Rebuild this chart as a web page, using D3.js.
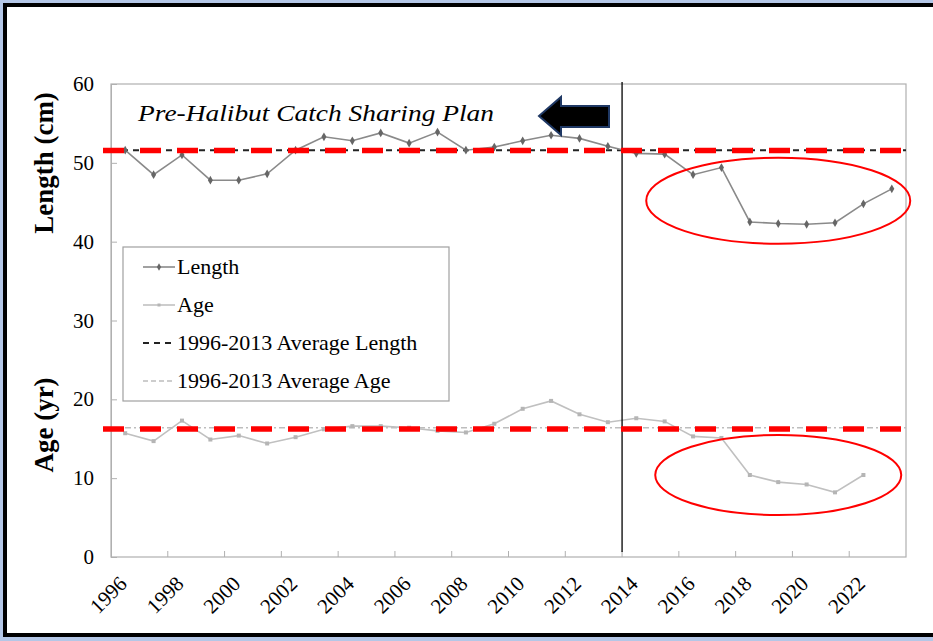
<!DOCTYPE html>
<html>
<head>
<meta charset="utf-8">
<script src="https://cdn.jsdelivr.net/npm/d3@7"></script>
<style>
    body { margin: 0; background: #b4c7e7; overflow: hidden; }
    svg { display: block; }
    text { font-family: "Times New Roman", "Liberation Serif", Tinos, Times, serif; fill: #000; }
</style>
</head>
<body>
<script>
//chart data
var years = ["1996","1997","1998","1999","2000","2001","2002","2003","2004","2005",
             "2006","2007","2008","2009","2010","2011","2012","2013","2014","2015",
             "2016","2017","2018","2019","2020","2021","2022","2023"];
var lengthVals = [51.6, 48.5, 51.0, 47.8, 47.8, 48.6, 51.6, 53.3, 52.8, 53.8,
                  52.5, 53.9, 51.6, 52.0, 52.8, 53.5, 53.1, 52.1, 51.2, 51.1,
                  48.5, 49.4, 42.5, 42.3, 42.2, 42.4, 44.8, 46.7];
var ageVals = [15.7, 14.7, 17.3, 14.9, 15.4, 14.4, 15.2, 16.2, 16.6, 16.6,
               16.4, 16.0, 15.8, 16.9, 18.8, 19.8, 18.1, 17.1, 17.6, 17.2,
               15.3, 15.1, 10.4, 9.5, 9.2, 8.2, 10.4, null];
var avgLength = 51.6, avgAge = 16.4;
var yTicks = [0, 10, 20, 30, 40, 50, 60];
var legendLabels = ["Length", "Age", "1996-2013 Average Length", "1996-2013 Average Age"];

(function(){
    var width = 933, height = 641;
    var svg = d3.select("body").append("svg")
        .attr("width", width)
        .attr("height", height);

    //slide frame
    svg.append("rect")
        .attr("x", 5).attr("y", 5)
        .attr("width", 940).attr("height", 630)
        .attr("fill", "#fff")
        .attr("stroke", "#000")
        .attr("stroke-width", 4);

    var plot = {left: 111, right: 906, top: 84, bottom: 557};

    var x = d3.scaleBand().domain(years).range([plot.left, plot.right]).padding(0);
    var y = d3.scaleLinear().domain([0, 60]).range([plot.bottom, plot.top]);
    var cx = function(yr){ return x(yr) + x.bandwidth() / 2; };

    //plot box
    svg.append("rect")
        .attr("x", plot.left).attr("y", plot.top)
        .attr("width", plot.right - plot.left).attr("height", plot.bottom - plot.top)
        .attr("fill", "none").attr("stroke", "#b0b0b0").attr("stroke-width", 1.2);

    //y axis (ticks point inward)
    var yAxis = svg.append("g")
        .attr("transform", "translate(" + plot.left + ",0)")
        .call(d3.axisRight(y).tickValues(yTicks).tickSize(6).tickFormat(""));
    yAxis.select(".domain").attr("stroke", "#b0b0b0");
    yAxis.selectAll("line").attr("stroke", "#b0b0b0");
    svg.selectAll(".ylab").data(yTicks).enter().append("text")
        .attr("class", "ylab")
        .attr("x", 94)
        .attr("y", function(d){ return y(d) + 7; })
        .attr("text-anchor", "end")
        .style("font-size", "21px")
        .text(function(d){ return d; });

    //x axis: ticks every two years, labels every two years
    var tickYears = years.filter(function(d, i){ return i > 0 && i % 2 === 0; });
    var xAxis = svg.append("g");
    xAxis.selectAll("line").data(tickYears).enter().append("line")
        .attr("x1", function(d){ return x(d); })
        .attr("x2", function(d){ return x(d); })
        .attr("y1", plot.bottom)
        .attr("y2", plot.bottom - 6)
        .attr("stroke", "#b0b0b0");
    var labelYears = years.filter(function(d, i){ return i % 2 === 0; });
    xAxis.selectAll("text").data(labelYears).enter().append("text")
        .attr("text-anchor", "end")
        .style("font-size", "21px")
        .attr("transform", function(d){
            return "translate(" + (cx(d) + 3) + "," + (plot.bottom + 28) + ") rotate(-45)";
        })
        .text(function(d){ return d; });

    //axis titles
    svg.append("text")
        .attr("transform", "translate(53,163) rotate(-90)")
        .attr("text-anchor", "middle")
        .style("font-size", "27px").style("font-weight", "bold")
        .text("Length (cm)");
    svg.append("text")
        .attr("transform", "translate(53,425) rotate(-90)")
        .attr("text-anchor", "middle")
        .style("font-size", "27px").style("font-weight", "bold")
        .text("Age (yr)");

    //average lines
    svg.append("line")
        .attr("x1", plot.left).attr("x2", plot.right)
        .attr("y1", y(avgLength)).attr("y2", y(avgLength))
        .attr("stroke", "#222").attr("stroke-width", 2)
        .attr("stroke-dasharray", "6,5");
    svg.append("line")
        .attr("x1", plot.left).attr("x2", plot.right)
        .attr("y1", y(avgAge)).attr("y2", y(avgAge))
        .attr("stroke", "#bdbdbd").attr("stroke-width", 1.5)
        .attr("stroke-dasharray", "6,3,2,3");

    //series
    var line = d3.line()
        .defined(function(d){ return d.v != null; })
        .x(function(d){ return cx(d.yr); })
        .y(function(d){ return y(d.v); });
    var lengthData = years.map(function(yr, i){ return {yr: yr, v: lengthVals[i]}; });
    var ageData = years.map(function(yr, i){ return {yr: yr, v: ageVals[i]}; });

    svg.append("path").datum(ageData)
        .attr("d", line).attr("fill", "none")
        .attr("stroke", "#c0c0c0").attr("stroke-width", 1.6);
    svg.selectAll(".ageMark").data(ageData.filter(function(d){ return d.v != null; }))
        .enter().append("rect")
        .attr("class", "ageMark")
        .attr("x", function(d){ return cx(d.yr) - 2; })
        .attr("y", function(d){ return y(d.v) - 2; })
        .attr("width", 4).attr("height", 4)
        .attr("fill", "#b5b5b5");

    svg.append("path").datum(lengthData)
        .attr("d", line).attr("fill", "none")
        .attr("stroke", "#8a8a8a").attr("stroke-width", 1.6);
    svg.selectAll(".lenMark").data(lengthData)
        .enter().append("path")
        .attr("class", "lenMark")
        .attr("d", d3.symbol().type(d3.symbolDiamond).size(22))
        .attr("transform", function(d){ return "translate(" + cx(d.yr) + "," + y(d.v) + ")"; })
        .attr("fill", "#666");

    //vertical line at start of catch sharing plan
    svg.append("line")
        .attr("x1", x("2014")).attr("x2", x("2014"))
        .attr("y1", plot.top - 2).attr("y2", plot.bottom - 5)
        .attr("stroke", "#000").attr("stroke-width", 1.3);

    //red dashed highlight lines
    [avgLength - 0.05, avgAge - 0.15].forEach(function(v){
        svg.append("line")
            .attr("x1", plot.left - 8).attr("x2", plot.right - 2)
            .attr("y1", y(v)).attr("y2", y(v))
            .attr("stroke", "#ff0000").attr("stroke-width", 5.5)
            .attr("stroke-dasharray", "21,16");
    });

    //red ellipses round the recent years
    svg.append("ellipse")
        .attr("cx", cx("2019")).attr("cy", y(45.2))
        .attr("rx", 132).attr("ry", 43)
        .attr("fill", "none").attr("stroke", "#ff0000").attr("stroke-width", 2);
    svg.append("ellipse")
        .attr("cx", cx("2019")).attr("cy", y(10.4))
        .attr("rx", 123).attr("ry", 40)
        .attr("fill", "none").attr("stroke", "#ff0000").attr("stroke-width", 2);

    //legend
    var leg = svg.append("g");
    leg.append("rect")
        .attr("x", 123).attr("y", 247)
        .attr("width", 326).attr("height", 154)
        .attr("fill", "#fff").attr("stroke", "#a0a0a0").attr("stroke-width", 1.2);
    var rowY = d3.scalePoint().domain(legendLabels).range([267, 381]);
    var styles = [
        {stroke: "#8a8a8a", dash: null, w: 1.6},
        {stroke: "#c0c0c0", dash: null, w: 1.6},
        {stroke: "#222", dash: "6,5", w: 2},
        {stroke: "#bdbdbd", dash: "5,3", w: 1.5}
    ];
    legendLabels.forEach(function(lab, i){
        var ry = rowY(lab);
        leg.append("line")
            .attr("x1", 143).attr("x2", 175)
            .attr("y1", ry).attr("y2", ry)
            .attr("stroke", styles[i].stroke).attr("stroke-width", styles[i].w)
            .attr("stroke-dasharray", styles[i].dash);
        if (i === 0) {
            leg.append("path")
                .attr("d", d3.symbol().type(d3.symbolDiamond).size(16))
                .attr("transform", "translate(159," + ry + ")")
                .attr("fill", "#666");
        } else if (i === 1) {
            leg.append("rect")
                .attr("x", 157.5).attr("y", ry - 1.5)
                .attr("width", 3).attr("height", 3).attr("fill", "#b5b5b5");
        }
        leg.append("text")
            .attr("x", 177).attr("y", ry + 7)
            .style("font-size", "22px")
            .text(lab);
    });

    //annotation text and arrow
    svg.append("text")
        .attr("x", 138).attr("y", 121)
        .attr("textLength", 356).attr("lengthAdjust", "spacingAndGlyphs")
        .style("font-size", "24px").style("font-style", "italic")
        .text("Pre-Halibut Catch Sharing Plan");
    svg.append("path")
        .attr("d", "M539,116 L561,97 L561,106 L609,106 L609,127 L561,127 L561,135 Z")
        .attr("fill", "#000")
        .attr("stroke", "#1f3864").attr("stroke-width", 2)
        .attr("stroke-linejoin", "miter");
})();
</script>
</body>
</html>
